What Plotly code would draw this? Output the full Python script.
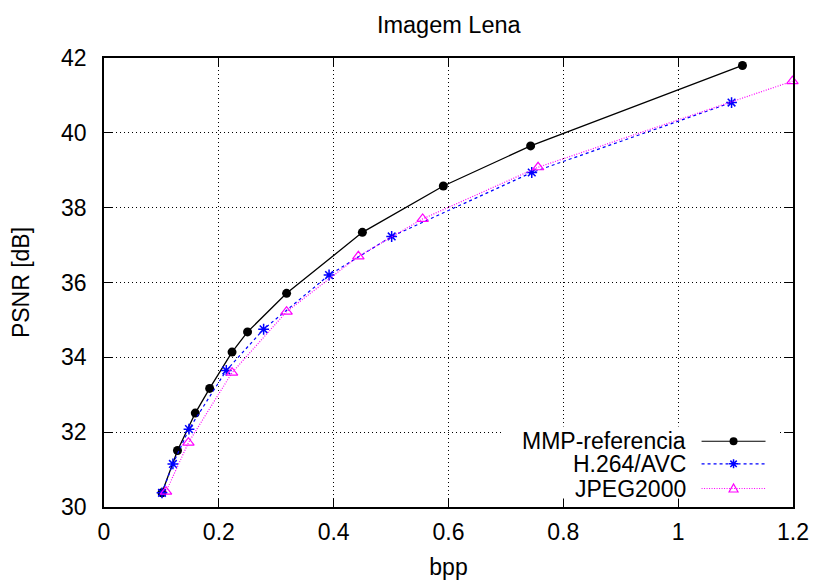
import plotly.graph_objects as go

# ---- data ----
mmp_bpp = [0.101, 0.128, 0.159, 0.184, 0.223, 0.250, 0.318, 0.450, 0.591, 0.743, 1.112]
mmp_psnr = [30.38, 31.51, 32.51, 33.17, 34.14, 34.68, 35.71, 37.34, 38.58, 39.65, 41.80]

h264_bpp = [0.101, 0.120, 0.148, 0.213, 0.278, 0.392, 0.501, 0.745, 1.093]
h264_psnr = [30.38, 31.15, 32.08, 33.65, 34.75, 36.20, 37.23, 38.94, 40.81]

jpeg_bpp = [0.108, 0.147, 0.223, 0.318, 0.443, 0.555, 0.756, 1.199]
jpeg_psnr = [30.41, 31.72, 33.59, 35.22, 36.70, 37.70, 39.08, 41.38]

series_names = ["MMP-referencia", "H.264/AVC", "JPEG2000"]
x_ticks = [0, 0.2, 0.4, 0.6, 0.8, 1, 1.2]
x_tick_labels = ["0", "0.2", "0.4", "0.6", "0.8", "1", "1.2"]
y_ticks = [30, 32, 34, 36, 38, 40, 42]

FONT = "Liberation Sans, Arial, sans-serif"
FS = 23
O = 8  # page body margin offset
W, H = 817 - O, 581 - O
L, T = 104 - O, 58.3 - O
R = W - (793.5 - O)
B = H - (507.5 - O)
PW, PH = W - L - R, H - T - B

BLACK, BLUE, MAG = "#000000", "#0000ff", "#ff00ff"

fig = go.Figure()
fig.add_trace(go.Scatter(x=mmp_bpp, y=mmp_psnr, mode="lines+markers", name=series_names[0],
                         line=dict(color=BLACK, width=1.3),
                         marker=dict(symbol="circle", size=9, color=BLACK), cliponaxis=False))
fig.add_trace(go.Scatter(x=h264_bpp, y=h264_psnr, mode="lines+markers", name=series_names[1],
                         line=dict(color=BLUE, width=1.2, dash="3px,3px"),
                         marker=dict(symbol="asterisk-open", size=9, color=BLUE,
                                     line=dict(color=BLUE, width=1.5)), cliponaxis=False))
fig.add_trace(go.Scatter(x=jpeg_bpp, y=jpeg_psnr, mode="lines+markers", name=series_names[2],
                         line=dict(color=MAG, width=1.2, dash="1px,1.5px"),
                         marker=dict(symbol="triangle-up-open", size=10, color=MAG,
                                     line=dict(color=MAG, width=1.2)), cliponaxis=False))

axis_common = dict(showline=True, linecolor=BLACK, linewidth=1.5, mirror="ticks",
                   ticks="inside", ticklen=8, tickwidth=1.2, tickcolor=BLACK,
                   showgrid=True, gridcolor=BLACK, gridwidth=1, griddash="1px,3px",
                   zeroline=False, tickfont=dict(family=FONT, size=FS, color=BLACK))

fig.update_xaxes(range=[0, 1.2], tickvals=x_ticks, ticktext=x_tick_labels,
                 ticklabelstandoff=4,
                 title=dict(text="bpp", font=dict(family=FONT, size=FS, color=BLACK), standoff=15),
                 **axis_common)
fig.update_yaxes(range=[30, 42], tickvals=y_ticks, ticklabelstandoff=11,
                 title=dict(text="PSNR [dB]", font=dict(family=FONT, size=FS, color=BLACK), standoff=27),
                 **axis_common)

# ---- custom gnuplot-style legend (text left, sample right) ----
def px(xp):
    return (xp - O - L) / PW

def py(yp):
    return (H - B - (yp - O)) / PH

shapes = [dict(type="rect", xref="paper", yref="paper", x0=px(503), x1=px(780), y0=py(499), y1=py(427),
               fillcolor="white", line=dict(width=0), layer="above")]
annotations = []
rows = [441.7, 464.3, 489.0]
styles = [(BLACK, "solid"), (BLUE, "3px,3px"), (MAG, "1px,1.5px")]
for name, yrow, (col, dash) in zip(series_names, rows, styles):
    annotations.append(dict(text=name, xref="paper", yref="paper", x=px(688), y=py(yrow),
                            xanchor="right", yanchor="middle", showarrow=False, height=22,
                            font=dict(family=FONT, size=FS, color=BLACK)))
    shapes.append(dict(type="line", xref="paper", yref="paper", x0=px(702), x1=px(766),
                       y0=py(yrow), y1=py(yrow), line=dict(color=col, width=1.2, dash=dash), layer="above"))
mx = px(734)
shapes.append(dict(type="circle", xref="paper", yref="paper", xsizemode="pixel", ysizemode="pixel",
                   xanchor=mx, yanchor=py(rows[0]), x0=-4, x1=4, y0=-4, y1=4,
                   fillcolor=BLACK, line=dict(color=BLACK, width=0), layer="above"))
shapes.append(dict(type="path", xref="paper", yref="paper", xsizemode="pixel", ysizemode="pixel",
                   xanchor=mx, yanchor=py(rows[1]),
                   path="M -4.5,0 L 4.5,0 M 0,-4.5 L 0,4.5 M -3.2,-3.2 L 3.2,3.2 M -3.2,3.2 L 3.2,-3.2",
                   line=dict(color=BLUE, width=1.5), layer="above"))
shapes.append(dict(type="path", xref="paper", yref="paper", xsizemode="pixel", ysizemode="pixel",
                   xanchor=mx, yanchor=py(rows[2]),
                   path="M -4.5,-3.5 L 4.5,-3.5 L 0,4.5 Z",
                   line=dict(color=MAG, width=1.2), layer="above"))

fig.update_layout(
    width=W, height=H,
    margin=dict(l=L, r=R, t=T, b=B, autoexpand=False),
    paper_bgcolor="white", plot_bgcolor="white",
    showlegend=False,
    title=dict(text="Imagem Lena", x=(L + PW / 2) / W, xanchor="center",
               y=1 - (25 - O) / H, yanchor="middle", font=dict(family=FONT, size=FS + 0.5, color=BLACK)),
    shapes=shapes, annotations=annotations,
)

fig.write_html("out.html")
